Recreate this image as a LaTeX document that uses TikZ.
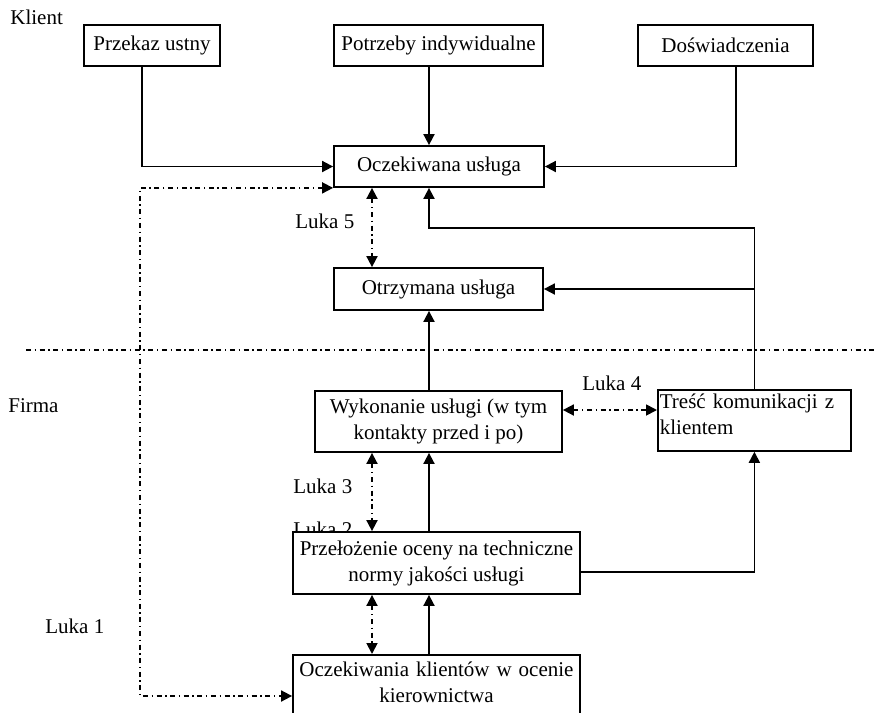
\documentclass[tikz,border=0pt]{standalone}
\usepackage{fontspec}
\setmainfont{Liberation Serif}
\usetikzlibrary{arrows.meta}
\tikzset{
  box/.style={rectangle, draw=black, line width=0.9pt, fill=white, align=center, font=\fontsize{10.5}{13}\selectfont, inner sep=2pt},
  lbl/.style={font=\fontsize{10.5}{13}\selectfont, inner sep=0pt, anchor=base west},
  arr/.style={-{Triangle[length=5.5pt, width=5.5pt]}, line width=0.9pt},
  gaparr/.style={{Triangle[length=5.5pt, width=5.5pt]}-{Triangle[length=5.5pt, width=5.5pt]}, line width=0.9pt, dash pattern=on 2.5pt off 1.8pt on 0.7pt off 1.8pt},
  divide/.style={line width=0.9pt, dash pattern=on 2.5pt off 1.8pt on 0.7pt off 1.8pt},
}
\begin{document}
\begin{tikzpicture}[x=0.5pt, y=-0.5pt]
\useasboundingbox (0,0) rectangle (875,713);
\clip (0,0) rectangle (875,713);
\coordinate (mid) at (429,0); \coordinate (gap) at (372,0); \coordinate (ret) at (429,228); \coordinate (lk) at (140,696);
\node[lbl] (klient) at (10,24) {Klient};
\node[lbl] (firma) at (8,412) {Firma};
\node[lbl] (l5) at (295,228) {Luka 5};
\node[lbl] (l4) at (582,390) {Luka 4};
\node[lbl] (l3) at (293,493) {Luka 3};
\node[lbl] (l2) at (293,536) {Luka 2};
\node[lbl] (l1) at (45,633) {Luka 1};
\node[box, minimum width=68pt, minimum height=20.5pt] (przekaz) at (152,45.5) {Przekaz ustny};
\node[box, minimum width=104.5pt, minimum height=20.5pt] (potrzeby) at (438.5,45.5) {Potrzeby indywidualne};
\node[box, minimum width=87.5pt, minimum height=20.5pt] (dosw) at (725.5,45.5) {Doświadczenia};
\node[box, minimum width=105pt, minimum height=20.5pt] (oczek) at (439,166.5) {Oczekiwana usługa};
\node[box, minimum width=104.5pt, minimum height=21pt] (otrz) at (438.5,289) {Otrzymana usługa};
\node[box, minimum width=123.5pt, minimum height=30.5pt] (wyk) at (438.5,421.5) {Wykonanie usługi (w tym\\kontakty przed i po)};
\node[box, anchor=north west, align=left, text width=94.5pt, inner xsep=1pt, text height=7.5pt, text depth=19pt] (tresc) at (657,389) {Treść komunikacji z\\klientem};
\node[box, minimum width=143.5pt, minimum height=31pt] (przel) at (436.5,563) {Przełożenie oceny na techniczne\\normy jakości usługi};
\node[box, anchor=north, text width=139.5pt, text height=8pt, text depth=40pt, inner ysep=3pt] (kier) at (436.5,654) {Oczekiwania klientów w ocenie\\kierownictwa};
\draw[divide] (26,350) -- (875,350);
\draw[arr] ([xshift=-5pt]przekaz.south) |- (oczek.west);
\draw[arr] (potrzeby.south -| mid) -- (oczek.north -| mid);
\draw[arr] ([xshift=5.25pt]dosw.south) |- (oczek.east);
\draw[arr] (tresc.north) |- (ret) -- (oczek.south -| ret);
\draw[arr] (tresc.north |- otrz.east) -- (otrz.east);
\draw[arr] (wyk.north -| mid) -- (otrz.south -| mid);
\draw[arr] (przel.north -| mid) -- (wyk.south -| mid);
\draw[arr] (kier.north -| mid) -- (przel.south -| mid);
\draw[arr] ([yshift=-4.5pt]przel.east) -| (tresc.south);
\draw[gaparr] (oczek.south -| gap) -- (otrz.north -| gap);
\draw[gaparr] (wyk.south -| gap) -- (przel.north -| gap);
\draw[gaparr] (przel.south -| gap) -- (kier.north -| gap);
\draw[gaparr] ([yshift=5.75pt]wyk.east) -- ([yshift=5.75pt]wyk.east -| tresc.west);
\draw[gaparr] (oczek.south west) -| (lk) -- (lk -| kier.west);
\end{tikzpicture}
\end{document}
